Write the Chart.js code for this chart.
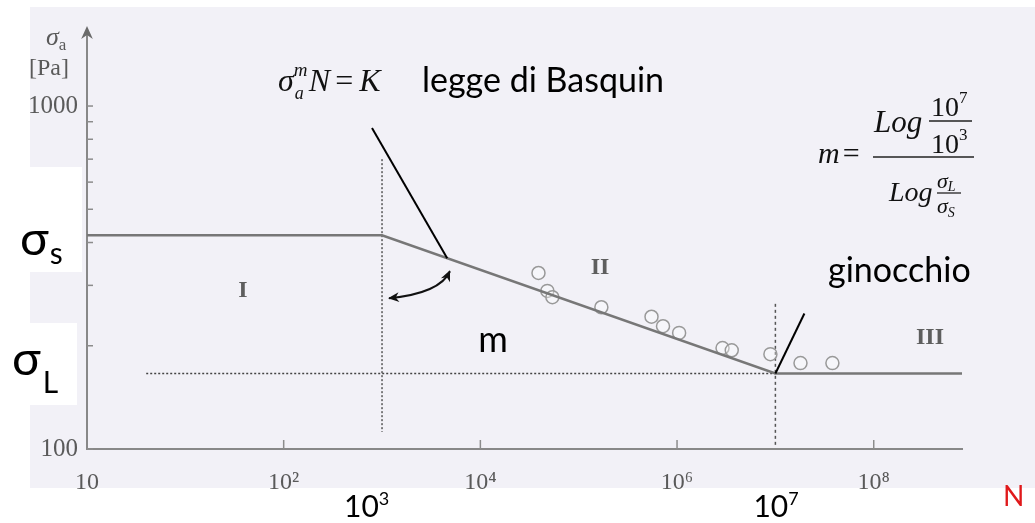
<!DOCTYPE html>
<html>
<head>
<meta charset="utf-8">
<script src="https://cdn.jsdelivr.net/npm/chart.js@4/dist/chart.umd.min.js"></script>
<style>
  html, body { margin: 0; padding: 0; background: #fff; }
  #wrap { width: 1035px; height: 523px; }
</style>
</head>
<body>
<div id="wrap"><canvas id="snChart" width="1035" height="523"></canvas></div>
<script>
// Wöhler (S-N) curve, log-log: regions I / II / III
var cycles = [1, 1e3, 1e7, 7.9e8];      // N at the corners of the curve
var stress = [420, 420, 166, 166];      // sigma_a [Pa]
var testCycles = [3.9e4, 4.8e4, 5.4e4, 1.7e5, 5.5e5, 7.2e5, 1.05e6, 2.9e6, 3.6e6, 8.9e6, 1.8e7, 3.8e7];
var testStress = [326, 289, 277, 259, 243, 228, 218, 197, 194, 189, 178, 178];
var xTickValues = [1, 1e2, 1e4, 1e6, 1e8];
var xTickLabels = ['10', '10²', '10⁴', '10⁶', '10⁸'];
var yTickValues = [100, 200, 300, 400, 500, 600, 700, 800, 900, 1000];
var yTickLabels = ['100', '', '', '', '', '', '', '', '', '1000'];

var SERIF = '"Liberation Serif", "Times New Roman", serif';
var SANS = 'Lato, "Open Sans", sans-serif';

// stress on the Basquin line between 10^3 and 10^7 cycles
function basquin(n) {
  var t = (Math.log10(n) - Math.log10(cycles[1])) / (Math.log10(cycles[2]) - Math.log10(cycles[1]));
  return Math.pow(10, Math.log10(stress[1]) + t * (Math.log10(stress[2]) - Math.log10(stress[1])));
}

function txt(ctx, s, x, y, font, color, align) {
  ctx.font = font;
  ctx.fillStyle = color || '#111';
  ctx.textAlign = align || 'left';
  ctx.textBaseline = 'alphabetic';
  ctx.fillText(s, x, y);
  return ctx.measureText(s).width;
}

function line(ctx, x1, y1, x2, y2, color, width, dash) {
  ctx.save();
  ctx.beginPath();
  ctx.strokeStyle = color;
  ctx.lineWidth = width;
  ctx.setLineDash(dash || []);
  ctx.moveTo(x1, y1);
  ctx.lineTo(x2, y2);
  ctx.stroke();
  ctx.restore();
}

function arrowHead(ctx, x, y, ang, size, color) {
  ctx.save();
  ctx.translate(x, y);
  ctx.rotate(ang);
  ctx.beginPath();
  ctx.moveTo(0, 0);
  ctx.lineTo(-size, -size * 0.45);
  ctx.lineTo(-size * 0.7, 0);
  ctx.lineTo(-size, size * 0.45);
  ctx.closePath();
  ctx.fillStyle = color;
  ctx.fill();
  ctx.restore();
}

var backdrop = {
  id: 'backdrop',
  beforeDraw: function (chart) {
    var ctx = chart.ctx;
    ctx.save();
    ctx.fillStyle = '#ffffff';
    ctx.fillRect(0, 0, chart.width, chart.height);
    ctx.fillStyle = '#f2f1f7';
    ctx.fillRect(30, 7, 1005, 481);
    ctx.fillStyle = '#ffffff';
    ctx.fillRect(0, 167, 82, 105);
    ctx.fillRect(0, 323, 77, 82);
    ctx.restore();
  },
  beforeDatasetsDraw: function (chart) {
    var ctx = chart.ctx, xs = chart.scales.x, ys = chart.scales.y;
    // guides at 10^3 and 10^7, and the fatigue limit
    var x3 = xs.getPixelForValue(cycles[1]), x7 = xs.getPixelForValue(cycles[2]);
    line(ctx, x3, ys.getPixelForValue(700), x3, ys.getPixelForValue(112), '#555', 1.5, [2, 2]);
    line(ctx, x7, ys.getPixelForValue(265), x7, ys.getPixelForValue(102), '#555', 1.5, [3, 3]);
    var yL = ys.getPixelForValue(stress[2]);
    line(ctx, xs.getPixelForValue(4), yL, x7, yL, '#444', 1.5, [2, 2]);
  },
  afterDraw: function (chart) {
    var ctx = chart.ctx, xs = chart.scales.x, ys = chart.scales.y, a = chart.chartArea;
    ctx.save();
    // inward tick marks
    xs.ticks.forEach(function (t) {
      var px = xs.getPixelForValue(t.value);
      if (px > a.left + 2) line(ctx, px, a.bottom, px, a.bottom - 9, '#8c8c8c', 1.5);
    });
    ys.ticks.forEach(function (t) {
      var py = ys.getPixelForValue(t.value);
      line(ctx, a.left, py, a.left + 6, py, '#8c8c8c', 1.5);
    });
    // y axis arrow
    line(ctx, a.left, a.top, a.left, a.top - 2, '#7a7a7a', 2);
    arrowHead(ctx, a.left, a.top - 4, -Math.PI / 2, 13, '#6a6a6a');

    // axis titles
    var w = txt(ctx, 'σ', 46, 45, 'italic 26px ' + SERIF, '#5a5a5a');
    txt(ctx, 'a', 46 + w, 50, '17px ' + SERIF, '#5a5a5a');
    txt(ctx, '[Pa]', 29, 75, '24px ' + SERIF, '#5a5a5a');

    // region numerals
    txt(ctx, 'I', 243, 297, 'bold 24px ' + SERIF, '#5e5e5e', 'center');
    txt(ctx, 'II', 600, 274, 'bold 24px ' + SERIF, '#5e5e5e', 'center');
    txt(ctx, 'III', 930, 344, 'bold 24px ' + SERIF, '#5e5e5e', 'center');

    // sigma_s / sigma_L
    w = txt(ctx, 'σ', 20, 255, '48px ' + SANS, '#000');
    txt(ctx, 's', 20 + w + 1, 264, '30px ' + SANS, '#000');
    w = txt(ctx, 'σ', 12, 375, '48px ' + SANS, '#000');
    txt(ctx, 'L', 12 + w + 2, 393, '30px ' + SANS, '#000');

    // Basquin law
    var x = 278;
    w = txt(ctx, 'σ', x, 91, 'italic 32px ' + SERIF, '#111');
    txt(ctx, 'm', x + w, 76, 'italic 19px ' + SERIF, '#111');
    txt(ctx, 'a', x + w + 1, 99, 'italic 18px ' + SERIF, '#111');
    x += w + 15;
    w = txt(ctx, 'N', x, 91, 'italic 32px ' + SERIF, '#111');
    x += w + 5;
    w = txt(ctx, '=', x, 91, '32px ' + SERIF, '#111');
    x += w + 6;
    txt(ctx, 'K', x, 91, 'italic 32px ' + SERIF, '#111');
    txt(ctx, 'legge di Basquin', 422, 92, '34px ' + SANS, '#000');

    // leader from the law to the sloped branch
    var nB = 4600;
    line(ctx, 372, 128, xs.getPixelForValue(nB), ys.getPixelForValue(basquin(nB)), '#000', 2);

    // slope m: curved double arrow
    var x0 = xs.getPixelForValue(cycles[1]), y0 = ys.getPixelForValue(stress[1]);
    var p1 = { x: x0 + 7, y: y0 + 63 }, p2 = { x: x0 + 68, y: y0 + 36 }, c = { x: x0 + 58, y: y0 + 58 };
    ctx.beginPath();
    ctx.strokeStyle = '#111';
    ctx.lineWidth = 2;
    ctx.moveTo(p1.x, p1.y);
    ctx.quadraticCurveTo(c.x, c.y, p2.x, p2.y);
    ctx.stroke();
    arrowHead(ctx, p1.x - 1, p1.y, Math.atan2(p1.y - c.y, p1.x - c.x), 11, '#111');
    arrowHead(ctx, p2.x, p2.y - 1, Math.atan2(p2.y - c.y, p2.x - c.x), 11, '#111');
    txt(ctx, 'm', 493, 352, '36px ' + SANS, '#000', 'center');

    // knee
    var xk = xs.getPixelForValue(cycles[2]), yk = ys.getPixelForValue(stress[2]);
    line(ctx, xk + 29, yk - 60, xk, yk, '#000', 2);
    txt(ctx, 'ginocchio', 828, 282, '34px ' + SANS, '#000');

    // slope formula
    w = txt(ctx, 'm', 818, 163, 'italic 30px ' + SERIF, '#111');
    txt(ctx, '=', 818 + w + 3, 163, '30px ' + SERIF, '#111');
    line(ctx, 873, 157, 974, 157, '#222', 1.3);
    txt(ctx, 'Log', 874, 132, 'italic 31px ' + SERIF, '#111');
    w = txt(ctx, '10', 931, 116, '28px ' + SERIF, '#111');
    txt(ctx, '7', 931 + w, 103, '17px ' + SERIF, '#111');
    line(ctx, 929, 121, 972, 121, '#222', 1.3);
    w = txt(ctx, '10', 931, 153, '28px ' + SERIF, '#111');
    txt(ctx, '3', 931 + w, 140, '17px ' + SERIF, '#111');
    txt(ctx, 'Log', 889, 201, 'italic 28px ' + SERIF, '#111');
    w = txt(ctx, 'σ', 937, 188, 'italic 22px ' + SERIF, '#111');
    txt(ctx, 'L', 937 + w, 191, 'italic 14px ' + SERIF, '#111');
    line(ctx, 937, 193, 961, 193, '#222', 1.3);
    w = txt(ctx, 'σ', 937, 213, 'italic 22px ' + SERIF, '#111');
    txt(ctx, 'S', 937 + w, 217, 'italic 14px ' + SERIF, '#111');

    // cycle marks under the axis
    w = txt(ctx, '10', x0 - 38, 517, '30px ' + SANS, '#000');
    txt(ctx, '3', x0 - 38 + w, 505, '18px ' + SANS, '#000');
    w = txt(ctx, '10', xk - 22, 517, '30px ' + SANS, '#000');
    txt(ctx, '7', xk - 22 + w, 505, '18px ' + SANS, '#000');
    txt(ctx, 'N', 1003, 506, '28px ' + SANS, '#e0191b');
    ctx.restore();
  }
};

new Chart('snChart', {
  type: 'line',
  data: {
    datasets: [{
      label: 'curva S-N',
      data: cycles.map(function (n, i) { return { x: n, y: stress[i] }; }),
      borderColor: '#777777',
      borderWidth: 2.5,
      pointRadius: 0,
      tension: 0
    }, {
      type: 'scatter',
      label: 'prove',
      data: testCycles.map(function (n, i) { return { x: n, y: testStress[i] }; }),
      pointStyle: 'circle',
      pointRadius: 6.5,
      borderWidth: 1.5,
      borderColor: '#999999',
      backgroundColor: 'rgba(255,255,255,0.35)'
    }]
  },
  options: {
    responsive: false,
    animation: false,
    devicePixelRatio: 1,
    layout: { padding: { top: 30, right: 73, left: 0, bottom: 0 } },
    plugins: { legend: { display: false }, tooltip: { enabled: false } },
    scales: {
      x: {
        type: 'logarithmic',
        min: cycles[0],
        max: cycles[3],
        grid: { display: false, drawTicks: false },
        border: { display: true, color: '#888888', width: 2 },
        afterBuildTicks: function (s) { s.ticks = xTickValues.map(function (v) { return { value: v }; }); },
        afterFit: function (s) { s.height = 74; },
        ticks: {
          autoSkip: false,
          maxRotation: 0,
          padding: 19,
          color: '#5a5a5a',
          font: { family: SERIF, size: 24 },
          callback: function (v) { var i = xTickValues.indexOf(v); return i < 0 ? '' : xTickLabels[i]; }
        }
      },
      y: {
        type: 'logarithmic',
        min: 100,
        max: 1666,
        grid: { display: false, drawTicks: false },
        border: { display: true, color: '#888888', width: 2 },
        afterBuildTicks: function (s) { s.ticks = yTickValues.map(function (v) { return { value: v }; }); },
        afterFit: function (s) { s.width = 87; },
        ticks: {
          autoSkip: false,
          padding: 9,
          color: '#5a5a5a',
          font: { family: SERIF, size: 25 },
          callback: function (v) { var i = yTickValues.indexOf(v); return i < 0 ? '' : yTickLabels[i]; }
        }
      }
    }
  },
  plugins: [backdrop]
});
</script>
</body>
</html>
